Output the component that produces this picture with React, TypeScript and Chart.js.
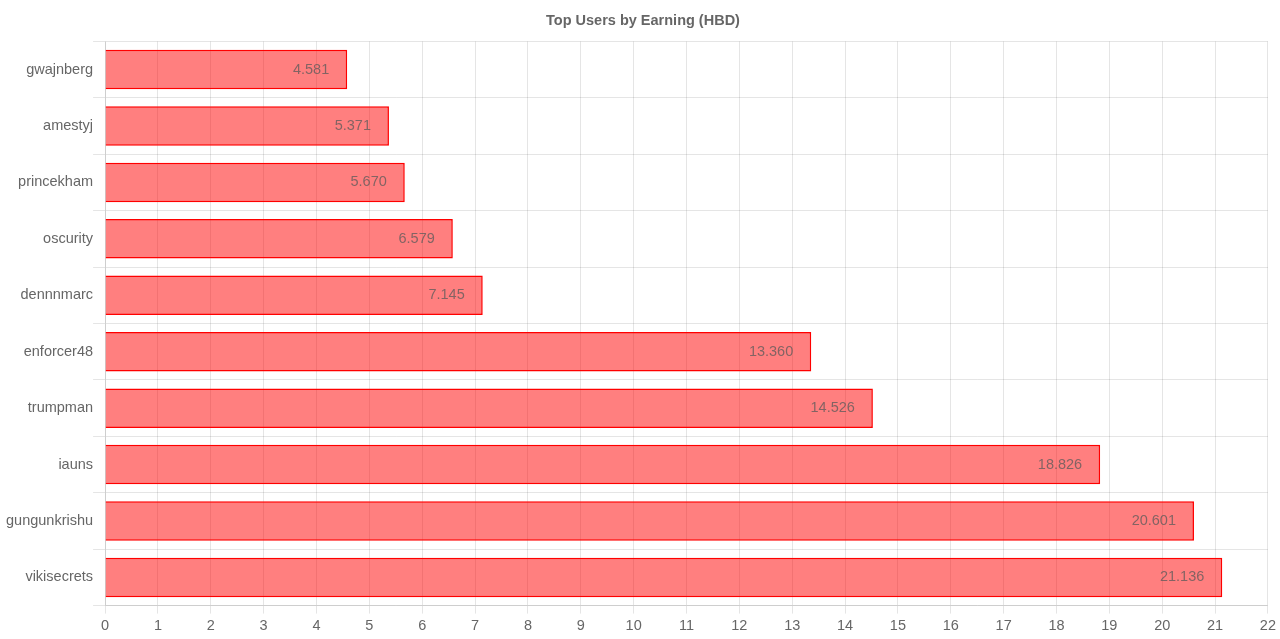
import React, { useEffect, useRef } from "react";
import { Chart, registerables } from "chart.js";

Chart.register(...registerables);

const categories = [
  "gwajnberg",
  "amestyj",
  "princekham",
  "oscurity",
  "dennnmarc",
  "enforcer48",
  "trumpman",
  "iauns",
  "gungunkrishu",
  "vikisecrets",
];
const earnings = [4.581, 5.371, 5.67, 6.579, 7.145, 13.36, 14.526, 18.826, 20.601, 21.136];
const chartTitle = "Top Users by Earning (HBD)";
const xMax = 22;

const FONT = '"Liberation Sans", Arial, sans-serif';

const valueLabels = {
  id: "valueLabels",
  afterDatasetsDraw(chart: any) {
    const ctx = chart.ctx;
    const meta = chart.getDatasetMeta(0);
    ctx.save();
    ctx.font = "14.5px " + FONT;
    ctx.fillStyle = "rgba(90,90,90,0.75)";
    ctx.textAlign = "right";
    ctx.textBaseline = "middle";
    meta.data.forEach((bar: any, i: number) => {
      const v = chart.data.datasets[0].data[i];
      ctx.fillText(v.toFixed(3), bar.x - 18, bar.y);
    });
    ctx.restore();
  },
};

export default function App() {
  const ref = useRef<HTMLCanvasElement | null>(null);
  useEffect(() => {
    if (!ref.current) return;
    const chart = new Chart(ref.current, {
      type: "bar",
      data: {
        labels: categories,
        datasets: [
          {
            label: "HBD",
            data: earnings,
            backgroundColor: "rgba(255,0,0,0.5)",
            borderColor: "rgb(255,0,0)",
            borderWidth: 1.5,
            barPercentage: 0.7,
            categoryPercentage: 1,
          },
        ],
      },
      options: {
        indexAxis: "y",
        animation: false,
        responsive: true,
        maintainAspectRatio: false,
        layout: { padding: { left: 6, right: 0, top: 4, bottom: 0 } },
        plugins: {
          legend: { display: false },
          tooltip: { enabled: false },
          title: {
            display: true,
            text: chartTitle,
            color: "#666",
            font: { size: 14.5, weight: "bold", family: FONT },
            padding: { top: 8, bottom: 12 },
          },
        },
        scales: {
          x: {
            min: 0,
            max: xMax,
            border: { color: "rgba(0,0,0,0.1)" },
            ticks: {
              stepSize: 1,
              color: "#666",
              padding: 4,
              font: { size: 14.5, family: FONT },
            },
            grid: { color: "rgba(0,0,0,0.1)" },
          },
          y: {
            border: { color: "rgba(0,0,0,0.1)" },
            ticks: {
              color: "#666",
              padding: 0,
              font: { size: 14.5, family: FONT },
            },
            grid: { color: "rgba(0,0,0,0.1)", tickLength: 12 },
          },
        },
      },
      plugins: [valueLabels],
    });
    return () => chart.destroy();
  }, []);
  return (
    <div style={{ position: "absolute", left: 0, top: 0, width: 1280, height: 639, background: "#fff" }}>
      <canvas ref={ref} />
    </div>
  );
}
